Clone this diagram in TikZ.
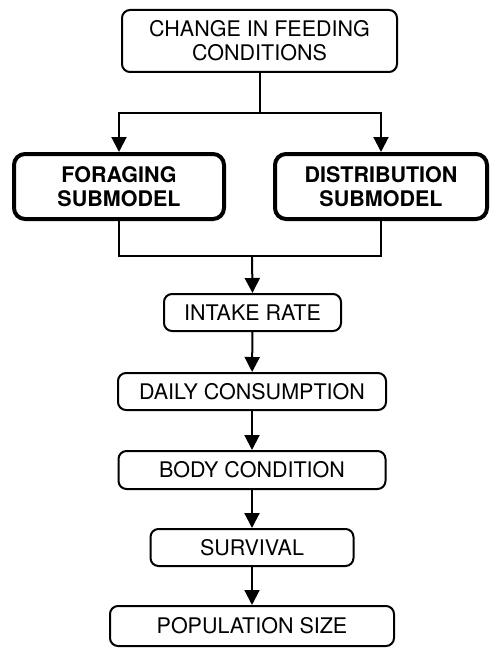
\documentclass[tikz,border=0pt]{standalone}
\usepackage{fontspec}
\setmainfont{TeX Gyre Heros}
\usetikzlibrary{arrows.meta,positioning,calc}

\begin{document}
\begin{tikzpicture}[x=1pt,y=-1pt,
    font=\fontsize{21.5}{24}\selectfont,
    box/.style={draw, line width=2pt, rounded corners=8pt, align=center,
                inner sep=0pt},
    subbox/.style={box, line width=4pt, rounded corners=11pt, font=\fontsize{21.5}{24}\selectfont\bfseries},
    arr/.style={line width=2pt, -{Triangle[length=15pt,width=15pt]}},
    line/.style={line width=2pt}]
        \useasboundingbox (0,0) rectangle (500,658);

        % Top box
        \node[box, minimum width=275pt, minimum height=62pt] (change) at (259.5,41)
            {CHANGE IN FEEDING\\CONDITIONS};

        % Submodels
        \node[subbox, minimum width=210pt, minimum height=65pt] (forage) at (119,186.5)
            {FORAGING\\SUBMODEL};
        \node[subbox, minimum width=212pt, minimum height=65pt] (distrib) at (381,186.5)
            {DISTRIBUTION\\SUBMODEL};

        % Chain of boxes
        \node[box, minimum width=177pt, minimum height=37pt] (intake) at (252.5,312.5) {INTAKE RATE};
        \node[box, minimum width=268pt, minimum height=37pt] (daily) at (252,391.5) {DAILY CONSUMPTION};
        \node[box, minimum width=267pt, minimum height=38pt] (body) at (252,470) {BODY CONDITION};
        \node[box, minimum width=203pt, minimum height=37pt] (survival) at (252,547.5) {SURVIVAL};
        \node[box, minimum width=284pt, minimum height=40pt] (popsize) at (252,626) {POPULATION SIZE};

        % Split and merge points
        \coordinate (split) at (259.5,113);
        \coordinate (merge) at (252,256);

        % Arrows
        \draw[line] (change.south) -- (split);
        \draw[arr] (split) -| (forage.north);
        \draw[arr] (split) -| (distrib.north);
        \draw[line] (forage.south) |- (merge);
        \draw[line] (distrib.south) |- (merge);
        \draw[arr] (merge) -- (intake.north);
        \draw[arr] (intake) -- (daily);
        \draw[arr] (daily) -- (body);
        \draw[arr] (body) -- (survival);
        \draw[arr] (survival) -- (popsize);
    \end{tikzpicture}
\end{document}
